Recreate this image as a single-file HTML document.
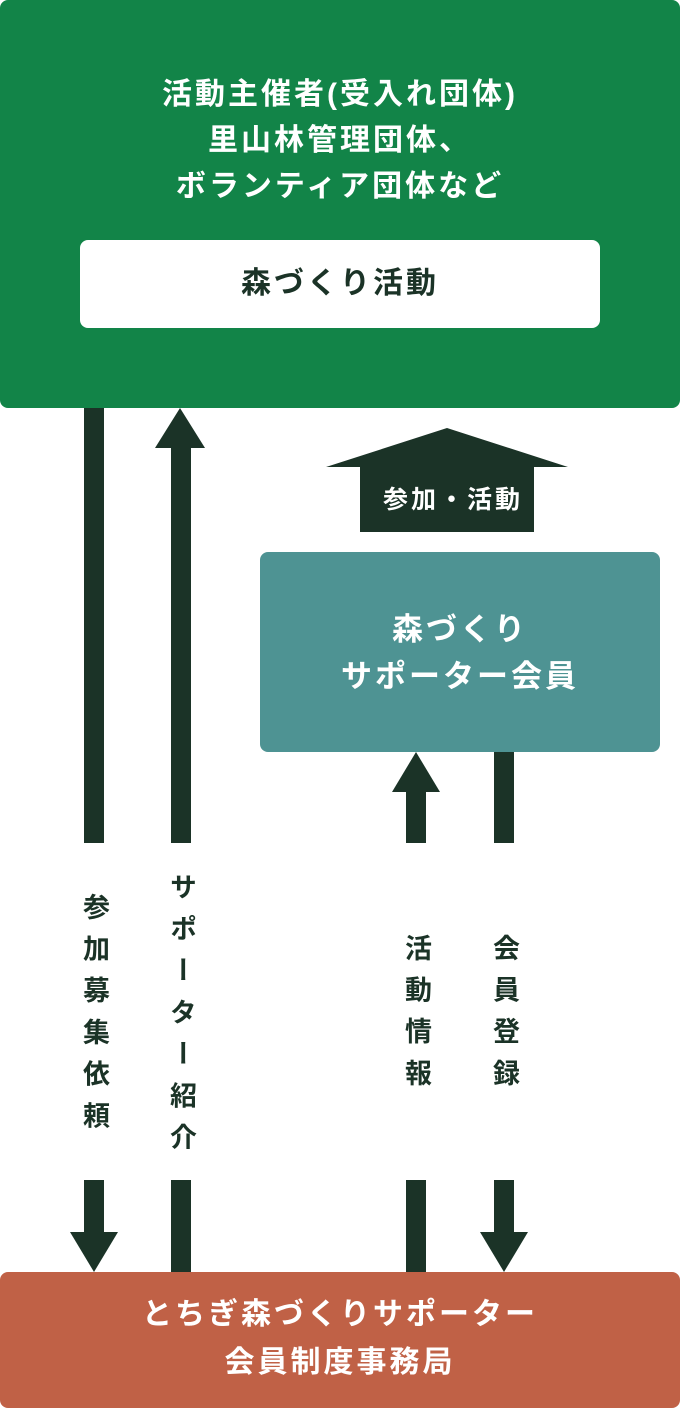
<!DOCTYPE html>
<html><head><meta charset="utf-8"><style>
*{margin:0;padding:0;box-sizing:border-box}
body{width:680px;height:1408px;background:#fff;position:relative;overflow:hidden;font-family:"Liberation Sans","Noto Sans CJK JP",sans-serif;font-weight:bold}
.a{position:absolute}
.bar{position:absolute;background:#1b3327}
.t{position:absolute;left:0;width:100%;text-align:center;color:#fff;font-size:30px;letter-spacing:3px}
.v{position:absolute;writing-mode:vertical-rl;text-orientation:upright;font-size:27px;letter-spacing:14.7px;color:#1b3327;width:30px;line-height:30px}
</style></head><body>
<div class="a" style="left:0;top:0;width:680px;height:408px;background:#128448;border-radius:8px">
 <div class="t" style="top:72px;line-height:46px">活動主催者(受入れ団体)<br>里山林管理団体、<br>ボランティア団体など</div>
 <div class="a" style="left:80px;top:240px;width:520px;height:88px;background:#fff;border-radius:8px;color:#1b3327;font-size:30px;letter-spacing:3px;text-align:center;line-height:88px">森づくり活動</div>
</div>

<div class="bar" style="left:84px;top:408px;width:20px;height:435px"></div>
<div class="bar" style="left:84px;top:1180px;width:20px;height:54px"></div>
<svg class="a" style="left:0;top:0" width="680" height="1408">
 <polygon points="70,1232 118,1232 94,1272" fill="#1b3327"/>
 <polygon points="155,448 205,448 180,408" fill="#1b3327"/>
 <polygon points="392,792 440,792 416,752" fill="#1b3327"/>
 <polygon points="480,1232 528,1232 504,1272" fill="#1b3327"/>
 <polygon points="326,467 447,428 568,467 534,467 534,532 360,532 360,467" fill="#1b3327"/>
</svg>
<div class="bar" style="left:171px;top:446px;width:20px;height:397px"></div>
<div class="bar" style="left:171px;top:1180px;width:20px;height:92px"></div>
<div class="bar" style="left:406px;top:790px;width:20px;height:53px"></div>
<div class="bar" style="left:406px;top:1180px;width:20px;height:92px"></div>
<div class="bar" style="left:494px;top:752px;width:20px;height:91px"></div>
<div class="bar" style="left:494px;top:1180px;width:20px;height:54px"></div>

<div class="a" style="left:366px;top:478px;width:174px;text-align:center;color:#fff;font-size:25px;letter-spacing:3px;line-height:44px">参加・活動</div>

<div class="a" style="left:260px;top:552px;width:400px;height:200px;background:#4e9393;border-radius:8px">
 <div class="t" style="top:54px;line-height:47px;font-size:31px">森づくり<br>サポーター会員</div>
</div>

<div class="v" style="left:79px;top:893px">参加募集依頼</div>
<div class="v" style="left:166px;top:873px">サポーター紹介</div>
<div class="v" style="left:401px;top:934px">活動情報</div>
<div class="v" style="left:489px;top:934px">会員登録</div>

<div class="a" style="left:0;top:1272px;width:680px;height:136px;background:#c06146;border-radius:8px">
 <div class="t" style="top:19px;line-height:48px">とちぎ森づくりサポーター<br>会員制度事務局</div>
</div>
</body></html>
